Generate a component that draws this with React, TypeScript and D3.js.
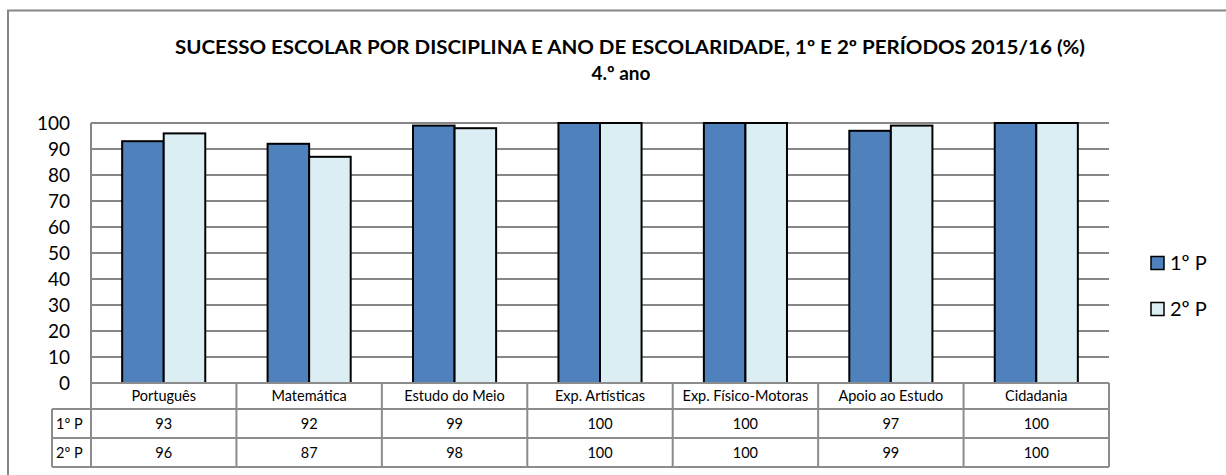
import React, { useEffect, useRef } from "react";
import * as d3 from "d3";

const categories = [
  "Português",
  "Matemática",
  "Estudo do Meio",
  "Exp. Artísticas",
  "Exp. Físico-Motoras",
  "Apoio ao Estudo",
  "Cidadania",
];
const seriesNames = ["1º P", "2º P"];
const firstPeriod = [93, 92, 99, 100, 100, 97, 100];
const secondPeriod = [96, 87, 98, 100, 100, 99, 100];
const yTicks = [0, 10, 20, 30, 40, 50, 60, 70, 80, 90, 100];
const colors = ["#4F81BD", "#DBEEF4"];

const title = "SUCESSO ESCOLAR POR DISCIPLINA E ANO DE ESCOLARIDADE, 1º E 2º PERÍODOS 2015/16 (%)";
const subtitle = "4.º ano";

const W = 1226;
const H = 475;
const FONT = "Lato, 'Open Sans', sans-serif";

export default function App() {
  const svgRef = useRef<SVGSVGElement | null>(null);

  useEffect(() => {
    const svg = d3.select(svgRef.current);
    svg.selectAll("*").remove();

    const plot = { left: 91, right: 1109, top: 123, bottom: 383 };
    const rowH = [26, 29, 29];
    const labelColLeft = 52;
    const series = [firstPeriod, secondPeriod];

    // outer frame
    svg
      .append("rect")
      .attr("x", 8)
      .attr("y", 10.5)
      .attr("width", W + 10)
      .attr("height", H + 10)
      .attr("fill", "#fff")
      .attr("stroke", "#868686")
      .attr("stroke-width", 2);

    // title
    svg
      .append("text")
      .attr("x", 630)
      .attr("y", 54)
      .attr("text-anchor", "middle")
      .attr("font-family", FONT)
      .attr("font-weight", "bold")
      .attr("font-size", 18.5)
      .attr("textLength", 910)
      .attr("lengthAdjust", "spacingAndGlyphs")
      .attr("fill", "#000")
      .text(title);
    svg
      .append("text")
      .attr("x", 621)
      .attr("y", 80)
      .attr("text-anchor", "middle")
      .attr("font-family", FONT)
      .attr("font-weight", "bold")
      .attr("font-size", 19)
      .attr("fill", "#000")
      .text(subtitle);

    const x = d3
      .scaleBand<string>()
      .domain(categories)
      .range([plot.left, plot.right])
      .paddingInner(0)
      .paddingOuter(0);

    const xSub = d3
      .scaleBand<string>()
      .domain(seriesNames)
      .range([0, x.bandwidth()])
      .paddingInner(0)
      .paddingOuter(0.75);

    const y = d3.scaleLinear().domain([0, 100]).range([plot.bottom, plot.top]);

    // gridlines
    svg
      .append("g")
      .selectAll("line")
      .data(yTicks)
      .join("line")
      .attr("x1", plot.left)
      .attr("x2", plot.right)
      .attr("y1", (d) => y(d))
      .attr("y2", (d) => y(d))
      .attr("stroke", "#868686")
      .attr("stroke-width", 2);

    // plot left edge
    svg
      .append("line")
      .attr("x1", plot.left)
      .attr("x2", plot.left)
      .attr("y1", plot.top)
      .attr("y2", plot.bottom)
      .attr("stroke", "#868686")
      .attr("stroke-width", 2);

    // y tick labels
    svg
      .append("g")
      .selectAll("text")
      .data(yTicks)
      .join("text")
      .attr("x", 70)
      .attr("y", (d) => y(d))
      .attr("dy", "0.35em")
      .attr("text-anchor", "end")
      .attr("font-family", FONT)
      .attr("font-size", 19)
      .attr("fill", "#000")
      .text((d) => d);

    // bars
    const groups = svg
      .append("g")
      .selectAll("g")
      .data(categories)
      .join("g")
      .attr("transform", (d) => `translate(${x(d)},0)`);

    groups
      .selectAll("rect")
      .data((_, i) => seriesNames.map((s, k) => ({ s, v: series[k][i], k })))
      .join("rect")
      .attr("x", (d) => xSub(d.s)!)
      .attr("y", (d) => y(d.v))
      .attr("width", xSub.bandwidth())
      .attr("height", (d) => plot.bottom - y(d.v))
      .attr("fill", (d) => colors[d.k])
      .attr("stroke", "#000")
      .attr("stroke-width", 2);

    // data table
    const tbl = svg.append("g");
    const t0 = plot.bottom;
    const t1 = t0 + rowH[0];
    const t2 = t1 + rowH[1];
    const t3 = t2 + rowH[2];
    const lineColor = "#8c8c8c";

    const hLines = [
      { x1: plot.left, x2: plot.right, y: t0 },
      { x1: labelColLeft, x2: plot.right, y: t1 },
      { x1: labelColLeft, x2: plot.right, y: t2 },
      { x1: labelColLeft, x2: plot.right, y: t3 },
    ];
    tbl
      .selectAll("line.h")
      .data(hLines)
      .join("line")
      .attr("class", "h")
      .attr("x1", (d) => d.x1)
      .attr("x2", (d) => d.x2)
      .attr("y1", (d) => d.y)
      .attr("y2", (d) => d.y)
      .attr("stroke", lineColor)
      .attr("stroke-width", 2);

    const boundaries = categories.map((c) => x(c)!).concat([plot.right]);
    tbl
      .selectAll("line.v")
      .data(boundaries)
      .join("line")
      .attr("class", "v")
      .attr("x1", (d) => d)
      .attr("x2", (d) => d)
      .attr("y1", t0)
      .attr("y2", t3)
      .attr("stroke", lineColor)
      .attr("stroke-width", 2);

    tbl
      .append("line")
      .attr("x1", labelColLeft)
      .attr("x2", labelColLeft)
      .attr("y1", t1)
      .attr("y2", t3)
      .attr("stroke", lineColor)
      .attr("stroke-width", 2);

    const cellText = (sel: d3.Selection<SVGTextElement, any, any, any>) =>
      sel
        .attr("font-family", FONT)
        .attr("font-size", 14.5)
        .attr("fill", "#000")
        .attr("dy", "0.35em");

    tbl
      .selectAll("text.cat")
      .data(categories)
      .join("text")
      .attr("class", "cat")
      .attr("x", (d) => x(d)! + x.bandwidth() / 2)
      .attr("y", (t0 + t1) / 2)
      .attr("text-anchor", "middle")
      .call(cellText)
      .text((d) => d);

    [firstPeriod, secondPeriod].forEach((vals, k) => {
      const rowTop = k === 0 ? t1 : t2;
      const rowBottom = k === 0 ? t2 : t3;
      tbl
        .append("text")
        .attr("x", labelColLeft + 4)
        .attr("y", (rowTop + rowBottom) / 2)
        .call(cellText)
        .text(seriesNames[k]);
      tbl
        .selectAll(`text.v${k}`)
        .data(vals)
        .join("text")
        .attr("class", `v${k}`)
        .attr("x", (_, i) => x(categories[i])! + x.bandwidth() / 2)
        .attr("y", (rowTop + rowBottom) / 2)
        .attr("text-anchor", "middle")
        .call(cellText)
        .text((d) => d);
    });

    // legend
    const legend = svg
      .append("g")
      .selectAll("g")
      .data(seriesNames)
      .join("g")
      .attr("transform", (_, i) => `translate(1151,${263 + i * 46})`);
    legend
      .append("rect")
      .attr("x", 0)
      .attr("y", -6.5)
      .attr("width", 13)
      .attr("height", 13)
      .attr("fill", (_, i) => colors[i])
      .attr("stroke", "#000")
      .attr("stroke-width", 1.5);
    legend
      .append("text")
      .attr("x", 19)
      .attr("y", 0)
      .attr("dy", "0.35em")
      .attr("font-family", FONT)
      .attr("font-size", 20)
      .attr("fill", "#000")
      .text((d) => d);
  }, []);

  return (
    <div style={{ position: "absolute", left: 0, top: 0 }}>
      <svg ref={svgRef} width={W} height={H} style={{ display: "block" }} />
    </div>
  );
}
